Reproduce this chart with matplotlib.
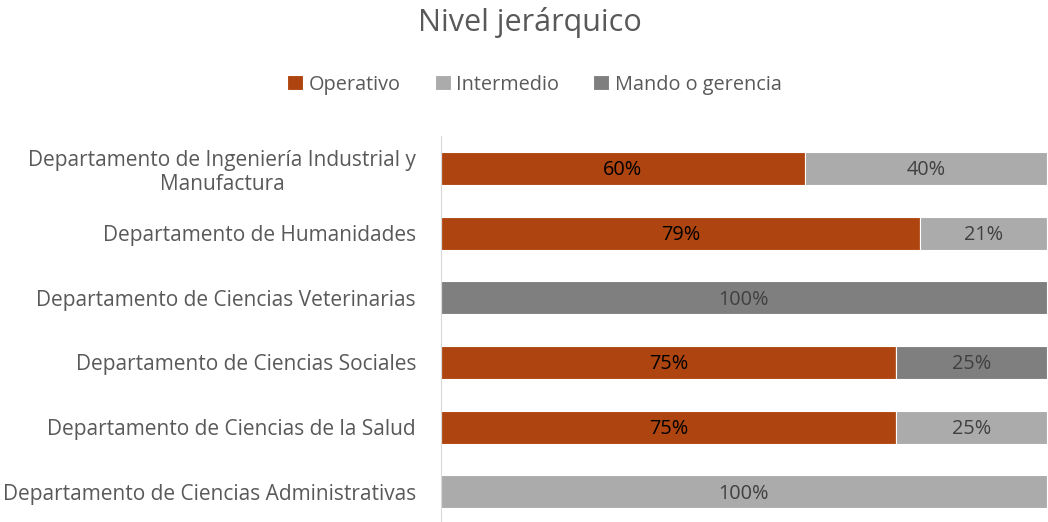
import matplotlib.pyplot as plt
import numpy as np

departamentos = [
    'Departamento de Ingeniería Industrial y\nManufactura',
    'Departamento de Humanidades',
    'Departamento de Ciencias Veterinarias',
    'Departamento de Ciencias Sociales',
    'Departamento de Ciencias de la Salud',
    'Departamento de Ciencias Administrativas',
]
operativo = [60, 79, 0, 75, 75, 0]
intermedio = [40, 21, 0, 0, 25, 100]
mando = [0, 0, 100, 25, 0, 0]

series = ['Operativo', 'Intermedio', 'Mando o gerencia']
colors = ['#ae4510', '#ababab', '#7f7f7f']
label_colors = ['#000000', '#404040', '#404040']

plt.rcParams['font.family'] = ['Open Sans', 'DejaVu Sans']
text_color = '#595959'

fig = plt.figure(figsize=(10.48, 5.22), dpi=100)
ax = fig.add_axes([441 / 1048, -0.004, 606 / 1048, 388 / 522])

y = np.arange(len(departamentos))
left = np.zeros(len(departamentos))
for name, vals, c, lc in zip(series, [operativo, intermedio, mando], colors, label_colors):
    vals = np.array(vals, dtype=float)
    bars = ax.barh(y, vals, left=left, height=0.51, color=c, edgecolor='white',
                   linewidth=0.8, label=name)
    for b, v in zip(bars, vals):
        if v > 0:
            ax.text(b.get_x() + b.get_width() / 2, b.get_y() + b.get_height() / 2 + 0.03,
                    f'{v:.0f}%', ha='center', va='center', fontsize=14.3, color=lc)
    left += vals

ax.set_xlim(0, 100)
ax.set_ylim(len(departamentos) - 0.5, -0.5)
ax.set_yticks(y)
ax.set_yticklabels(departamentos, fontsize=15, color=text_color)
ax.set_xticks([])
ax.tick_params(axis='y', length=0, pad=18)
for s in ['top', 'right', 'bottom']:
    ax.spines[s].set_visible(False)
ax.spines['left'].set_color('#d9d9d9')
for t in ax.get_yticklabels():
    t.set_horizontalalignment('right')
    t.set_multialignment('center')

fig.text(0.506, 0.957, 'Nivel jerárquico', ha='center', va='center', fontsize=22, color=text_color)
leg = fig.legend(loc='center', bbox_to_anchor=(0.51, 0.838), ncol=3, frameon=False,
                 fontsize=14.3, handlelength=0.8, handleheight=0.8, handletextpad=0.3,
                 columnspacing=1.7)
for t in leg.get_texts():
    t.set_color(text_color)

fig.savefig('out.png', dpi=100)
